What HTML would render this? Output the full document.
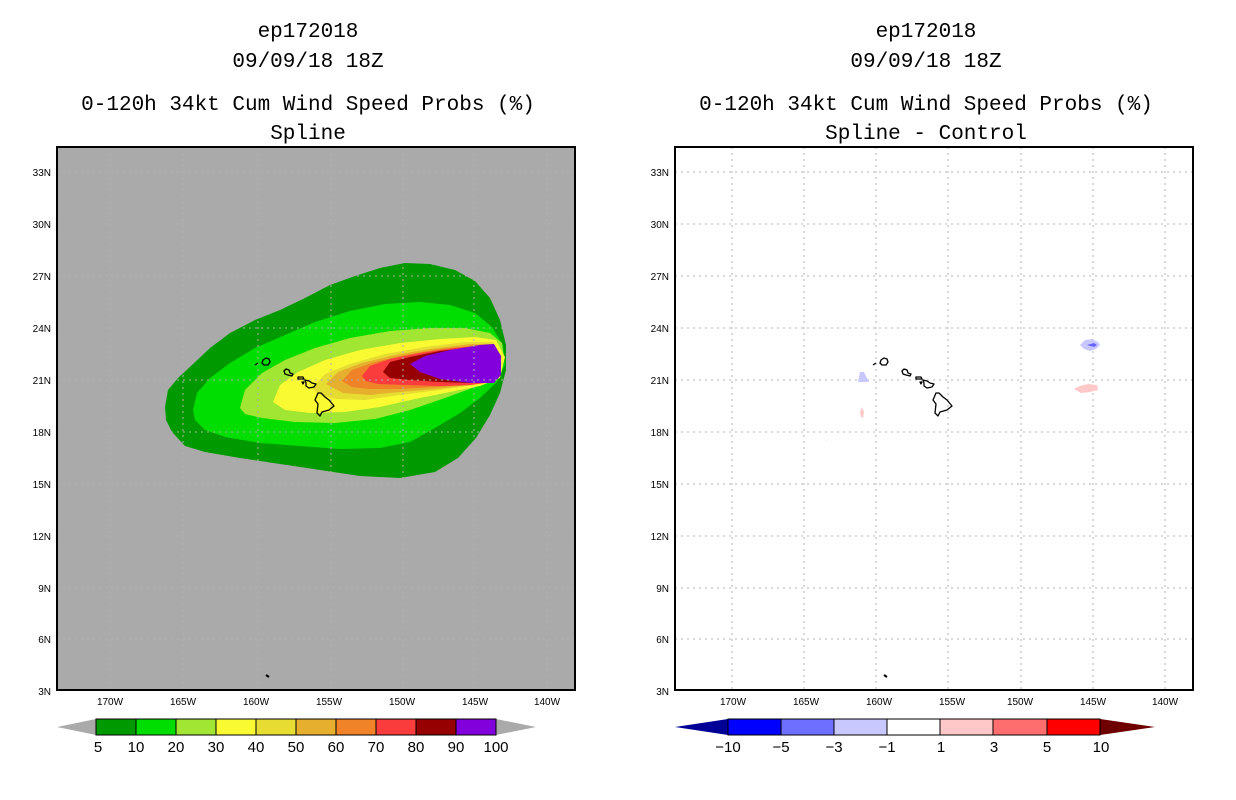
<!DOCTYPE html>
<html><head><meta charset="utf-8"><style>
body{margin:0;background:#fff;}
svg{display:block;font-family:"Liberation Mono","DejaVu Sans Mono",monospace;}
.t{font-size:21px;text-anchor:middle;fill:#000;}
.ax{font-size:10px;fill:#000;font-family:"Liberation Sans",sans-serif;}
.cb{font-size:15px;text-anchor:middle;font-family:"Liberation Sans",sans-serif;}
.g{stroke:#b4b4b4;stroke-width:1;stroke-dasharray:2,4;}
.gl{stroke:#b0b0b0;stroke-width:1;stroke-dasharray:2,4;}
.isl{fill:none;stroke:#000;stroke-width:1.3;stroke-linejoin:round;}
</style></head><body>
<svg width="1236" height="800" viewBox="0 0 1236 800">
<g>
<text class="t" x="308" y="37">ep172018</text>
<text class="t" x="308" y="67">09/09/18 18Z</text>
<text class="t" x="308" y="110">0-120h 34kt Cum Wind Speed Probs (%)</text>
<text class="t" x="308" y="139">Spline</text>
</g>
<g>
<text class="t" x="926" y="37">ep172018</text>
<text class="t" x="926" y="67">09/09/18 18Z</text>
<text class="t" x="926" y="110">0-120h 34kt Cum Wind Speed Probs (%)</text>
<text class="t" x="926" y="139">Spline - Control</text>
</g>

<defs>
<g id="islands">
<path d="M255,365 L258,363" class="isl"/>
<path d="M263,360 L266,358 269,359 270,362 268,365 264,365 262,363Z" class="isl"/>
<path d="M284,371 L286,369 289,370 290,373 293,374 292,376 288,375 285,374Z" class="isl"/>
<path d="M298,377 L303,377 304,379 298,379Z" class="isl"/>
<path d="M302,382 L304,382 303,384Z" class="isl"/>
<path d="M305,380 L309,381 312,383 316,384 314,387 309,388 306,386 306,383Z" class="isl"/>
<path d="M318,393 L321,393 325,397 329,400 334,406 329,410 322,412 320,416 317,413 318,404 315,400Z" class="isl"/>
</g>
</defs>

<g>
<rect x="57" y="147" width="518" height="543" fill="#aaaaaa"/>
<path fill="#009900" d="M165,407 L168,390 178,378 192,365 210,348 230,333 255,320 280,310 305,298 330,285 355,276 380,268 405,263 430,264 455,270 475,281 490,298 500,320 506,345 506,370 500,393 490,415 476,438 458,458 435,472 400,478 360,476 320,470 280,464 240,458 205,452 185,446 172,432 166,420Z"/>
<path fill="#00dd00" d="M193,410 L197,393 210,378 230,363 255,348 285,335 315,322 350,311 385,304 420,302 450,305 475,313 492,327 503,345 505,365 497,382 480,398 460,413 435,428 410,442 380,448 340,449 300,446 260,443 225,437 205,430 195,420Z"/>
<path fill="#a0e632" d="M240,408 L245,390 262,373 285,360 315,348 350,338 390,331 430,328 465,328 490,333 502,343 504,360 496,375 475,387 445,398 410,410 375,419 335,423 295,422 262,418 245,414Z"/>
<path fill="#fafa32" d="M273,402 L280,385 298,372 325,360 360,350 400,343 440,339 475,337 496,340 505,357 500,378 480,386 450,392 415,399 380,407 345,412 310,413 285,410Z"/>
<path fill="#e6dc32" d="M312,388 L325,374 350,364 385,354 425,347 465,342 493,342 502,357 497,377 475,385 440,390 400,395 365,400 335,399 318,394Z"/>
<path fill="#e6af2d" d="M326,384 L338,372 362,363 395,355 430,349 470,344 494,344 500,358 495,378 470,385 435,389 400,392 370,395 343,393Z"/>
<path fill="#f08228" d="M342,381 L352,370 375,362 405,355 440,349 478,345 494,345 499,358 494,380 470,385 435,387 400,389 370,389 352,387Z"/>
<path fill="#fa3c3c" d="M362,376 L370,366 390,359 420,353 455,348 488,345 497,349 498,360 493,382 470,385 440,386 405,385 378,384 366,381Z"/>
<path fill="#960000" d="M383,372 L390,362 410,357 440,351 475,347 493,347 497,360 492,381 470,383 440,382 410,380 390,378Z"/>
<path fill="#8200dc" d="M410,364 L425,356 450,350 480,345 494,344 501,356 501,375 494,383 470,383 440,379 420,372Z"/>
<g>
<line class="gl" x1="110" y1="147" x2="110" y2="690"/><line class="gl" x1="183" y1="147" x2="183" y2="690"/><line class="gl" x1="258" y1="147" x2="258" y2="690"/><line class="gl" x1="331" y1="147" x2="331" y2="690"/><line class="gl" x1="403" y1="147" x2="403" y2="690"/><line class="gl" x1="474" y1="147" x2="474" y2="690"/><line class="gl" x1="547" y1="147" x2="547" y2="690"/>
<line class="gl" x1="57" y1="172" x2="575" y2="172"/><line class="gl" x1="57" y1="224" x2="575" y2="224"/><line class="gl" x1="57" y1="276" x2="575" y2="276"/><line class="gl" x1="57" y1="328" x2="575" y2="328"/><line class="gl" x1="57" y1="380" x2="575" y2="380"/><line class="gl" x1="57" y1="432" x2="575" y2="432"/><line class="gl" x1="57" y1="484" x2="575" y2="484"/><line class="gl" x1="57" y1="536" x2="575" y2="536"/><line class="gl" x1="57" y1="588" x2="575" y2="588"/><line class="gl" x1="57" y1="639" x2="575" y2="639"/>
</g>
<use href="#islands"/>
<path d="M266,675 l3,2" stroke="#000" stroke-width="2"/>
<rect x="57" y="147" width="518" height="543" fill="none" stroke="#000" stroke-width="2"/>
</g>

<g>
<rect x="675" y="147" width="518" height="543" fill="#fff"/>
<g>
<line class="g" x1="732" y1="147" x2="732" y2="690"/><line class="g" x1="804" y1="147" x2="804" y2="690"/><line class="g" x1="876" y1="147" x2="876" y2="690"/><line class="g" x1="948" y1="147" x2="948" y2="690"/><line class="g" x1="1021" y1="147" x2="1021" y2="690"/><line class="g" x1="1093" y1="147" x2="1093" y2="690"/><line class="g" x1="1165" y1="147" x2="1165" y2="690"/>
<line class="g" x1="675" y1="172" x2="1193" y2="172"/><line class="g" x1="675" y1="224" x2="1193" y2="224"/><line class="g" x1="675" y1="276" x2="1193" y2="276"/><line class="g" x1="675" y1="328" x2="1193" y2="328"/><line class="g" x1="675" y1="380" x2="1193" y2="380"/><line class="g" x1="675" y1="432" x2="1193" y2="432"/><line class="g" x1="675" y1="484" x2="1193" y2="484"/><line class="g" x1="675" y1="536" x2="1193" y2="536"/><line class="g" x1="675" y1="588" x2="1193" y2="588"/><line class="g" x1="675" y1="639" x2="1193" y2="639"/>
</g>
<path fill="#c8c8ff" d="M1080,345 L1085,340 1092,339 1098,342 1100,345 1096,349 1090,351 1084,349Z"/>
<path fill="#6464ff" d="M1087,345 L1094,343 1097,345 1094,347Z"/>
<path fill="#c8c8ff" d="M858,382 L860,372 864,372 867,378 869,382Z"/>
<path fill="#ffc8c8" d="M1074,389 L1080,386 1088,384 1097,385 1098,390 1090,392 1081,393Z"/>
<path fill="#ffc8c8" d="M860,412 L862,407 864,412 863,418 861,417Z"/>
<path fill="#ffc8c8" d="M826,440 l1,0 0,1z"/>
<use href="#islands" transform="translate(618,0)"/>
<path d="M884,675 l3,2" stroke="#000" stroke-width="2"/>
<rect x="675" y="147" width="518" height="543" fill="none" stroke="#000" stroke-width="2"/>
</g>

<g class="ax">
<g text-anchor="end">
<text x="51" y="176">33N</text><text x="51" y="228">30N</text><text x="51" y="280">27N</text><text x="51" y="332">24N</text><text x="51" y="384">21N</text><text x="51" y="436">18N</text><text x="51" y="488">15N</text><text x="51" y="540">12N</text><text x="51" y="592">9N</text><text x="51" y="643">6N</text><text x="51" y="695">3N</text>
<text x="669" y="176">33N</text><text x="669" y="228">30N</text><text x="669" y="280">27N</text><text x="669" y="332">24N</text><text x="669" y="384">21N</text><text x="669" y="436">18N</text><text x="669" y="488">15N</text><text x="669" y="540">12N</text><text x="669" y="592">9N</text><text x="669" y="643">6N</text><text x="669" y="695">3N</text>
</g>
<g text-anchor="middle">
<text x="110" y="705">170W</text><text x="183" y="705">165W</text><text x="256" y="705">160W</text><text x="329" y="705">155W</text><text x="402" y="705">150W</text><text x="475" y="705">145W</text><text x="547" y="705">140W</text>
<text x="733" y="705">170W</text><text x="806" y="705">165W</text><text x="879" y="705">160W</text><text x="952" y="705">155W</text><text x="1020" y="705">150W</text><text x="1093" y="705">145W</text><text x="1165" y="705">140W</text>
</g>
</g>

<g stroke="#000" stroke-width="1">
<path d="M96,719 L57,727 96,735Z" fill="#aaaaaa" stroke="none"/>
<path d="M496,719 L536,727 496,735Z" fill="#aaaaaa" stroke="none"/>
<rect x="96" y="719" width="40" height="16" fill="#009900"/>
<rect x="136" y="719" width="40" height="16" fill="#00dd00"/>
<rect x="176" y="719" width="40" height="16" fill="#a0e632"/>
<rect x="216" y="719" width="40" height="16" fill="#fafa32"/>
<rect x="256" y="719" width="40" height="16" fill="#e6dc32"/>
<rect x="296" y="719" width="40" height="16" fill="#e6af2d"/>
<rect x="336" y="719" width="40" height="16" fill="#f08228"/>
<rect x="376" y="719" width="40" height="16" fill="#fa3c3c"/>
<rect x="416" y="719" width="40" height="16" fill="#960000"/>
<rect x="456" y="719" width="40" height="16" fill="#8200dc"/>
</g>
<g class="cb">
<text x="98" y="752">5</text><text x="136" y="752">10</text><text x="176" y="752">20</text><text x="216" y="752">30</text><text x="256" y="752">40</text><text x="296" y="752">50</text><text x="336" y="752">60</text><text x="376" y="752">70</text><text x="416" y="752">80</text><text x="456" y="752">90</text><text x="496" y="752">100</text>
</g>
<g stroke="#000" stroke-width="1">
<path d="M728,719 L675,727 728,735Z" fill="#000096" stroke="none"/>
<path d="M1100,719 L1155,727 1100,735Z" fill="#6e0000" stroke="none"/>
<rect x="728" y="719" width="53" height="16" fill="#0000ff"/>
<rect x="781" y="719" width="53" height="16" fill="#6e6eff"/>
<rect x="834" y="719" width="53" height="16" fill="#c8c8ff"/>
<rect x="887" y="719" width="53" height="16" fill="#ffffff"/>
<rect x="940" y="719" width="53" height="16" fill="#ffc8c8"/>
<rect x="993" y="719" width="54" height="16" fill="#ff6e6e"/>
<rect x="1047" y="719" width="53" height="16" fill="#ff0000"/>
</g>
<g class="cb">
<text x="728" y="752">−10</text><text x="781" y="752">−5</text><text x="834" y="752">−3</text><text x="887" y="752">−1</text><text x="941" y="752">1</text><text x="994" y="752">3</text><text x="1047" y="752">5</text><text x="1101" y="752">10</text>
</g>
</svg>
</body></html>
